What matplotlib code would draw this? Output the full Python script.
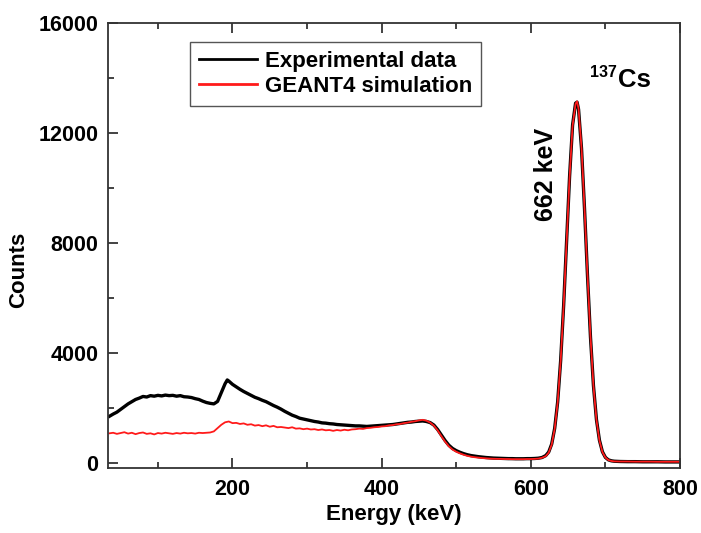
import matplotlib
matplotlib.use("Agg")
import matplotlib.pyplot as plt
from matplotlib.ticker import MultipleLocator

plt.rcParams['font.family'] = ['Liberation Sans', 'DejaVu Sans']
plt.rcParams['font.weight'] = 'bold'

# Energy grid (keV) for the continuum part
energy_low = [35, 40, 45, 50, 55, 60, 65, 70, 75, 80, 85, 90, 95, 100, 105, 110, 115, 120,
              125, 130, 135, 140, 145, 150, 155, 160, 165, 170, 175, 180, 185, 190, 193, 195,
              200, 205, 210, 215, 220, 225, 230, 235, 240, 245, 250, 255, 260, 265, 270, 275,
              280, 285, 290, 295, 300, 305, 310, 315, 320, 325, 330, 335, 340, 345, 350, 355,
              360, 365, 370, 375, 380, 385, 390, 395, 400, 405, 410, 415, 420, 425, 430, 435,
              440, 445, 450, 455, 460, 465, 470, 475, 480, 485, 490, 495, 500, 505, 510, 515,
              520, 525, 530, 535, 540, 545, 550, 555, 560, 565, 570, 575, 580, 585, 590, 595,
              600, 605, 610, 615]
exp_low = [1700, 1780, 1850, 1950, 2050, 2150, 2230, 2310, 2360, 2420, 2400, 2450, 2430, 2460,
           2440, 2470, 2450, 2460, 2430, 2450, 2410, 2400, 2380, 2340, 2310, 2250, 2200, 2170,
           2150, 2240, 2560, 2880, 3020, 2980, 2860, 2770, 2680, 2600, 2530, 2460, 2390, 2340,
           2280, 2230, 2160, 2090, 2030, 1960, 1880, 1810, 1740, 1690, 1630, 1600, 1570, 1540,
           1510, 1490, 1460, 1450, 1430, 1420, 1400, 1390, 1380, 1370, 1360, 1350, 1350, 1340,
           1330, 1340, 1350, 1360, 1370, 1380, 1390, 1400, 1420, 1440, 1460, 1480, 1490, 1510,
           1520, 1530, 1510, 1470, 1380, 1220, 1020, 820, 650, 530, 450, 390, 340, 300, 270,
           250, 230, 215, 200, 190, 180, 175, 170, 165, 160, 160, 155, 155, 155, 160, 160, 165,
           175, 200]
sim_low = [1080, 1100, 1060, 1090, 1120, 1070, 1100, 1050, 1090, 1110, 1060, 1080, 1040, 1090,
           1070, 1100, 1080, 1060, 1090, 1070, 1100, 1080, 1090, 1070, 1100, 1090, 1100, 1110,
           1150, 1270, 1390, 1480, 1500, 1510, 1450, 1460, 1420, 1440, 1390, 1410, 1360, 1380,
           1340, 1370, 1320, 1350, 1300, 1310, 1290, 1270, 1300, 1250, 1260, 1230, 1250, 1220,
           1230, 1200, 1220, 1190, 1200, 1170, 1200, 1180, 1210, 1190, 1220, 1230, 1250, 1240,
           1270, 1280, 1300, 1310, 1330, 1340, 1370, 1380, 1410, 1420, 1450, 1470, 1500, 1520,
           1550, 1570, 1540, 1470, 1360, 1190, 980, 780, 610, 490, 410, 350, 300, 260, 230,
           210, 195, 180, 170, 160, 155, 150, 150, 145, 145, 140, 140, 140, 140, 145, 145, 150,
           160, 190]

# Full-energy peak region (keV)
energy_peak = [620, 624, 628, 632, 636, 640, 644, 648, 652, 656, 660, 662, 664, 668, 672, 676,
               680, 684, 688, 692, 696, 700, 704, 708, 712]
exp_peak = [270, 400, 690, 1260, 2220, 3720, 5720, 8090, 10430, 12290, 13080, 13120, 12860,
            11430, 9250, 6810, 4580, 2810, 1580, 830, 410, 205, 115, 80, 65]
sim_peak = [250, 380, 670, 1240, 2200, 3700, 5700, 8060, 10400, 12260, 13060, 13150, 12880,
            11450, 9270, 6830, 4600, 2800, 1570, 820, 400, 200, 110, 75, 60]

# High-energy tail (keV)
energy_high = [720, 730, 740, 750, 760, 770, 780, 790, 800]
exp_high = [55, 50, 50, 45, 45, 45, 40, 40, 40]
sim_high = [55, 55, 50, 50, 50, 45, 45, 45, 45]

energy = energy_low + energy_peak + energy_high
experimental = exp_low + exp_peak + exp_high
simulation = sim_low + sim_peak + sim_high

fig = plt.figure(figsize=(7.01, 5.33), dpi=100)
ax = fig.add_axes([0.154, 0.122, 0.816, 0.835])

ax.plot(energy, experimental, color='black', lw=2.4, label='Experimental data')
ax.plot(energy, simulation, color='#ff1a1a', lw=1.3, label='GEANT4 simulation')

ax.set_xlim(33, 800)
ax.set_ylim(-180, 16000)
ax.xaxis.set_major_locator(MultipleLocator(200))
ax.xaxis.set_minor_locator(MultipleLocator(100))
ax.yaxis.set_major_locator(MultipleLocator(4000))
ax.yaxis.set_minor_locator(MultipleLocator(2000))
ax.tick_params(which='both', direction='in', top=True, right=False, width=1.2, colors='#222222',
               labelcolor='black')
ax.tick_params(which='major', length=7)
ax.tick_params(which='minor', length=4)
ax.tick_params(axis='x', which='major', pad=8, labelsize=15.5)
ax.tick_params(axis='y', which='major', pad=7, labelsize=15.5)
for t in ax.get_xticklabels() + ax.get_yticklabels():
    t.set_fontweight('bold')
for s in ax.spines.values():
    s.set_linewidth(1.3)
    s.set_color('#333333')

ax.set_xlabel('Energy (keV)', fontsize=16, fontweight='bold', labelpad=3)
ax.set_ylabel('Counts', fontsize=16, fontweight='bold')
ax.yaxis.set_label_coords(-0.138, 0.445)

leg = ax.legend(loc='upper left', bbox_to_anchor=(0.143, 0.958), borderaxespad=0,
                fontsize=16, handlelength=2.6, handletextpad=0.35, labelspacing=0.18,
                borderpad=0.42, fancybox=False, edgecolor='#555555', framealpha=1)
leg.get_frame().set_linewidth(1.0)
for t in leg.get_texts():
    t.set_fontweight('bold')
for l in leg.get_lines():
    l.set_linewidth(2)

ax.text(620, 10500, '662 keV', rotation=90, fontsize=18, fontweight='bold',
        ha='center', va='center')
ax.text(717, 13670, 'Cs', fontsize=18.5, fontweight='bold', ha='left', va='baseline')
ax.text(716, 14050, '137', fontsize=11.5, fontweight='bold', ha='right', va='baseline')

fig.savefig('out.png', dpi=100)
